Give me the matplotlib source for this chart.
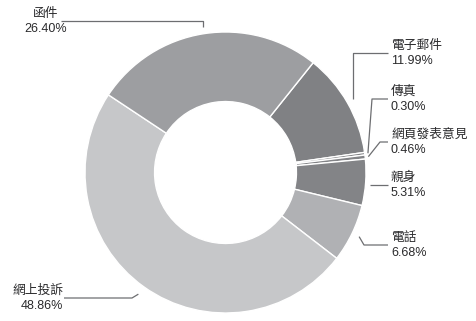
import numpy as np
import matplotlib
matplotlib.use("Agg")
import matplotlib.pyplot as plt

plt.rcParams['font.family'] = ['Liberation Sans', 'Noto Sans CJK TC', 'DejaVu Sans']

# data (clockwise from the 函件 / 電子郵件 boundary)
labels = ['電子郵件', '傳真', '網頁發表意見', '親身', '電話', '網上投訴', '函件']
values = [11.99, 0.30, 0.46, 5.31, 6.68, 48.86, 26.40]
colors = ['#808184', '#838487', '#838487', '#838487', '#b0b1b4', '#c6c7c9', '#9d9ea1']

W, H = 477, 321
fig = plt.figure(figsize=(W / 100, H / 100), dpi=100)
ax = fig.add_axes([0, 0, 1, 1])

cx, cy, R = 225.5, H - 172.5, 140.5
start = 51.4
wedges, _ = ax.pie(values, colors=colors, startangle=start, counterclock=False,
                   center=(cx, cy), radius=R,
                   wedgeprops=dict(width=R * 0.495, edgecolor='white', linewidth=1.0))
ax.set_xlim(0, W)
ax.set_ylim(0, H)
ax.set_aspect('equal')
ax.axis('off')

# label layout: (text x, line y in px from top, elbow x, text align, line end x, anchor radius)
layout = {
    '電子郵件':   (391, 53, None, 'left', 388, 1.05),
    '傳真':       (391, 99, 372, 'left', 388, 1.023),
    '網頁發表意見': (391, 142, 380, 'left', 388, 1.023),
    '親身':       (391, 185, None, 'left', 388, 1.03),
    '電話':       (391, 245, 364, 'left', 388, 1.055),
    '網上投訴':   (63.5, 298, 132, 'right', 64, 1.065),
    '函件':       (45.5, 20.5, None, 'center', 61, 1.05),
}

line_col = '#6d6e71'
text_col = '#2a2a2c'
for w, lab, v in zip(wedges, labels, values):
    tx, ly, ex, ha, lx, rr = layout[lab]
    mid = np.deg2rad((w.theta1 + w.theta2) / 2)
    axp = cx + R * rr * np.cos(mid)
    ayp = cy + R * rr * np.sin(mid)
    y = H - ly
    if ex is None:
        ex = axp
        if lab == '親身':
            ayp = y
    ax.plot([axp, ex, lx], [ayp, y, y], color=line_col, lw=0.9, solid_capstyle='butt')
    ax.text(tx, y + 7, lab, ha=ha, va='center', fontsize=9.2, color=text_col)
    ax.text(tx, y - 8, f'{v:.2f}%', ha=ha, va='center', fontsize=9, color=text_col)

fig.savefig('out.png', dpi=100)
